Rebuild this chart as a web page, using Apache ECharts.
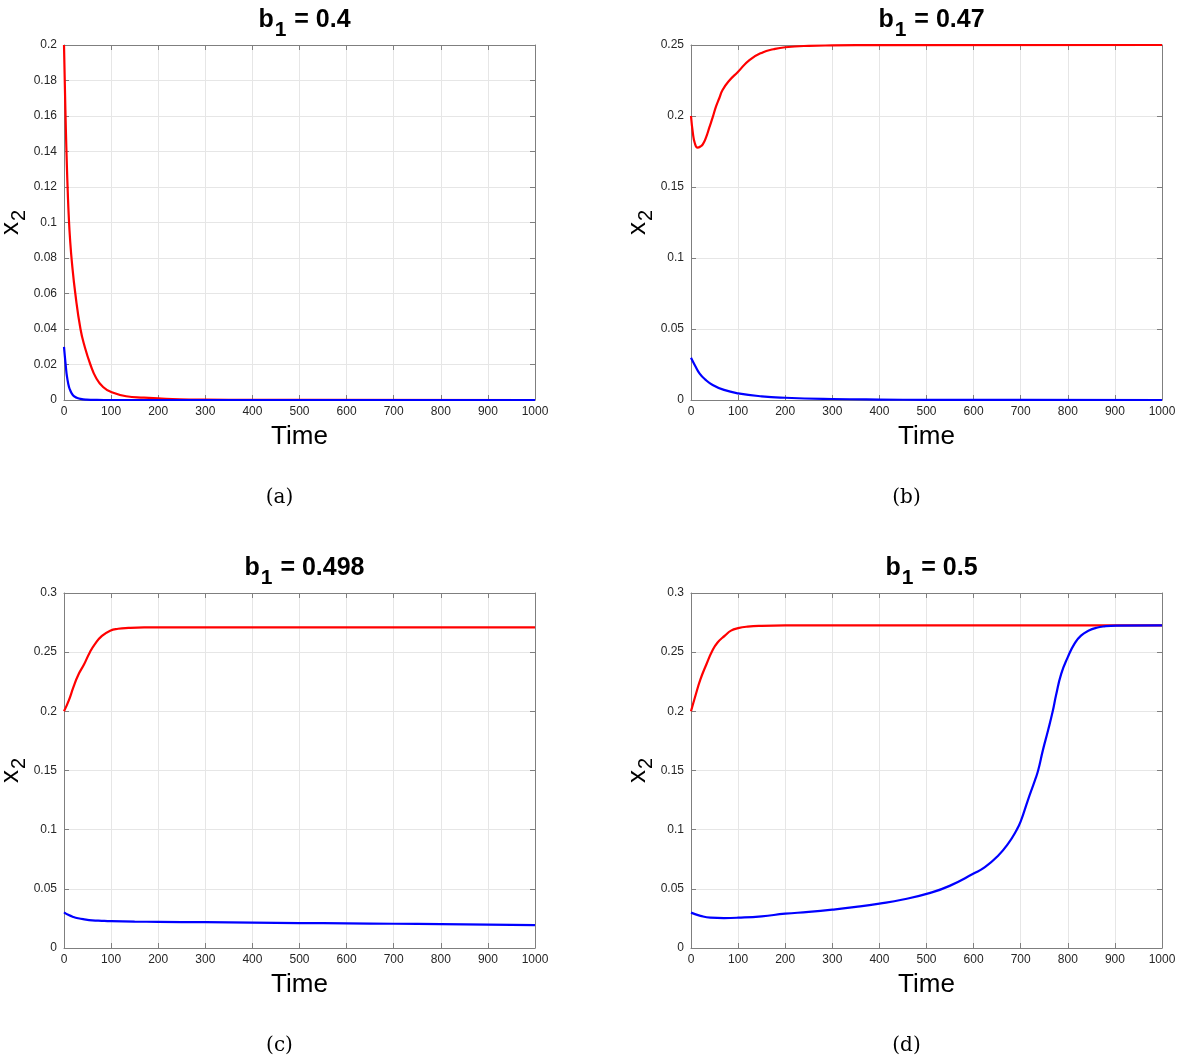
<!DOCTYPE html>
<html>
<head>
<meta charset="utf-8">
<title>x2 vs Time</title>
<script src="https://cdn.jsdelivr.net/npm/echarts@6/dist/echarts.min.js"></script>
<style>
  html, body { margin: 0; padding: 0; background: #fff; }
  #main { width: 1177px; height: 1061px; }
</style>
</head>
<body>
<div id="main"></div>
<script>
// 每个面板的 b1 取值
const b1Values = ['0.4', '0.47', '0.498', '0.5']
const captions = ['(a)', '(b)', '(c)', '(d)']
const yMax = [0.2, 0.25, 0.3, 0.3]
const yStep = [0.02, 0.05, 0.05, 0.05]

// [time, x2] 点
const redA = [[0, 0.2], [2, 0.175], [4, 0.152], [6, 0.133], [8, 0.117], [10, 0.104], [13, 0.09],
  [17, 0.077], [24, 0.06], [35, 0.04], [44, 0.03], [56, 0.02], [68, 0.0125], [83, 0.0073],
  [100, 0.0045], [132, 0.0021], [170, 0.0013], [200, 0.0009], [245, 0.0004], [300, 0.0002],
  [400, 0.0001], [500, 0.00004], [1000, 0]]
const blueA = [[0, 0.0299], [2, 0.024], [4, 0.0186], [6, 0.0138], [9, 0.0092], [12, 0.0062],
  [16, 0.0039], [21, 0.0022], [27, 0.0013], [35, 0.0006], [48, 0.0002], [70, 0.00005], [100, 0], [1000, 0]]

const redB = [[0, 0.2], [4, 0.188], [8, 0.181], [14, 0.1777], [20, 0.1785], [25, 0.18], [32, 0.185],
  [39, 0.192], [46, 0.199], [53, 0.2066], [60, 0.2125], [67, 0.2183], [80, 0.2245], [100, 0.2312],
  [124, 0.2394], [152, 0.2448], [175, 0.247], [200, 0.2484], [250, 0.2494], [300, 0.2497],
  [400, 0.2499], [1000, 0.25]]
const blueB = [[0, 0.0298], [9, 0.024], [18, 0.0188], [30, 0.0145], [46, 0.0106], [70, 0.0071],
  [100, 0.0047], [150, 0.0026], [200, 0.0016], [300, 0.0007], [400, 0.0003], [500, 0.00015],
  [700, 0.00005], [1000, 0]]

const redC = [[0, 0.2], [10, 0.209], [20, 0.2204], [30, 0.2305], [43, 0.24], [55, 0.25], [66, 0.257],
  [80, 0.2635], [98, 0.2682], [115, 0.2698], [137, 0.2705], [170, 0.2709], [250, 0.271], [1000, 0.271]]
const blueC = [[0, 0.0301], [10, 0.0278], [20, 0.0262], [30, 0.0251], [43, 0.0242], [60, 0.0234],
  [80, 0.023], [100, 0.0227], [150, 0.0223], [200, 0.0221], [300, 0.0218], [400, 0.0215],
  [500, 0.0211], [600, 0.0208], [700, 0.0205], [800, 0.0202], [900, 0.0198], [1000, 0.0194]]

const redD = [[0, 0.2], [10, 0.214], [20, 0.227], [33, 0.24], [45, 0.251], [56, 0.258], [72, 0.264],
  [85, 0.2682], [100, 0.2703], [120, 0.2716], [150, 0.2723], [200, 0.2726], [1000, 0.2726]]
const blueD = [[0, 0.0299], [20, 0.0272], [41, 0.0256], [70, 0.0253], [100, 0.0256], [150, 0.0268],
  [200, 0.029], [250, 0.0305], [300, 0.0324], [350, 0.0347], [400, 0.0375], [450, 0.041],
  [508, 0.0466], [549, 0.0525], [600, 0.0629], [624, 0.0683], [652, 0.078], [673, 0.088],
  [691, 0.0995], [700, 0.107], [715, 0.1246], [730, 0.1415], [737, 0.15], [747, 0.167],
  [758, 0.1838], [768, 0.2], [775, 0.2135], [786, 0.2317], [800, 0.2458], [814, 0.257],
  [828, 0.264], [846, 0.2685], [860, 0.2705], [875, 0.2717], [903, 0.2725], [1000, 0.2726]]

const redData = [redA, redB, redC, redD]
const blueData = [blueA, blueB, blueC, blueD]

const font = 'Liberation Sans, Arial, Helvetica, sans-serif'
const frameColor = '#7f7f7f'
// 四个子图的绘图区
const grids = [
  { left: 64, top: 45, width: 471, height: 355, outerBoundsMode: 'none' },
  { left: 691, top: 45, width: 471, height: 355, outerBoundsMode: 'none' },
  { left: 64, top: 593, width: 471, height: 355, outerBoundsMode: 'none' },
  { left: 691, top: 593, width: 471, height: 355, outerBoundsMode: 'none' }
]

const xAxis = []
const yAxis = []
const series = []
const title = []
const graphic = []

grids.forEach(function (g, i) {
  const tick = { show: true, inside: true, length: 5, lineStyle: { color: frameColor } }
  const line = { show: true, onZero: false, lineStyle: { color: frameColor, width: 1 } }
  // 底部 x 轴
  xAxis.push({
    type: 'value', gridIndex: i, position: 'bottom', min: 0, max: 1000, interval: 100,
    name: 'Time', nameLocation: 'middle', nameGap: 24,
    nameTextStyle: { fontFamily: font, fontSize: 26, color: '#000' },
    axisLine: line, axisTick: tick,
    axisLabel: {
      fontFamily: font, fontSize: 12, color: '#262626', margin: 6,
      formatter: function (v) { return String(v) }
    },
    splitLine: { show: true, lineStyle: { color: '#e6e6e6', width: 1 } }
  })
  // 顶部边框
  xAxis.push({
    type: 'value', gridIndex: i, position: 'top', min: 0, max: 1000, interval: 100,
    axisLine: line, axisTick: tick, axisLabel: { show: false }, splitLine: { show: false }
  })
  yAxis.push({
    type: 'value', gridIndex: i, position: 'left', min: 0, max: yMax[i], interval: yStep[i],
    name: '{x|x}{s|2}', nameLocation: 'middle', nameGap: 34, nameRotate: 90,
    nameTextStyle: {
      fontFamily: font, color: '#000',
      rich: {
        x: { fontFamily: font, fontSize: 26, color: '#000' },
        s: { fontFamily: font, fontSize: 20, color: '#000', padding: [18, 0, 0, 1] }
      }
    },
    axisLine: line, axisTick: tick,
    axisLabel: { fontFamily: font, fontSize: 12, color: '#262626', margin: 7 },
    splitLine: { show: true, lineStyle: { color: '#e6e6e6', width: 1 } }
  })
  yAxis.push({
    type: 'value', gridIndex: i, position: 'right', min: 0, max: yMax[i], interval: yStep[i],
    axisLine: line, axisTick: tick, axisLabel: { show: false }, splitLine: { show: false }
  })
  title.push({
    text: '{b|b}{s|1}{b| = ' + b1Values[i] + '}',
    left: g.left + g.width / 2, textAlign: 'center', top: g.top - 50,
    textStyle: {
      rich: {
        b: { fontFamily: font, fontSize: 25, fontWeight: 'bold', color: '#000' },
        s: { fontFamily: font, fontSize: 21, fontWeight: 'bold', color: '#000', padding: [20, 1, 0, 1] }
      }
    }
  })
  graphic.push({
    type: 'text',
    x: g.left + g.width / 2 - 20, y: g.top + g.height + 98,
    style: {
      text: captions[i], align: 'center', verticalAlign: 'middle',
      font: '20px "DejaVu Serif", "Liberation Serif", serif', fill: '#000'
    }
  })
  series.push({
    type: 'line', xAxisIndex: 2 * i, yAxisIndex: 2 * i, data: redData[i],
    showSymbol: false, smooth: 0.5,
    lineStyle: { color: '#ff0000', width: 2.2 }, itemStyle: { color: '#ff0000' }
  })
  series.push({
    type: 'line', xAxisIndex: 2 * i, yAxisIndex: 2 * i, data: blueData[i],
    showSymbol: false, smooth: 0.5,
    lineStyle: { color: '#0000ff', width: 2.2 }, itemStyle: { color: '#0000ff' }
  })
})

const chart = echarts.init(document.getElementById('main'))
chart.setOption({
  backgroundColor: '#fff',
  animation: false,
  title: title,
  grid: grids,
  xAxis: xAxis,
  yAxis: yAxis,
  series: series,
  graphic: graphic
})
</script>
</body>
</html>
